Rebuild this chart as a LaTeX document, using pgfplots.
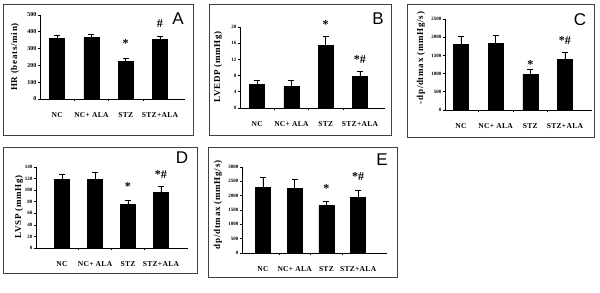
\documentclass[border=0pt]{standalone}
\usepackage{pgfplots}
\pgfplotsset{compat=1.18}
\usepackage{fontspec}
\setmainfont{Liberation Serif}
\newfontfamily\widef{Liberation Serif}[LetterSpace=8]
\newfontfamily\catf{Liberation Serif}[LetterSpace=4]
\newfontfamily\sansf{Liberation Sans}

\pgfplotsset{
  panel/.style={
    scale only axis, anchor=south west, clip=false,
    axis x line*=bottom, axis y line*=left,
    axis line style={-, black, line width=0.7pt},
    ybar, bar width=15pt, ymin=0,
    xtick={0,1,2,3},
    xticklabels={NC, NC+ ALA, STZ, STZ+ALA},
    major x tick style={draw=none},
    minor xtick={0.5,1.5,2.5},
    minor x tick style={black, line width=0.6pt},
    minor tick length=2.5pt,
    major tick length=2pt,
    tick align=outside,
    y tick style={black, line width=0.6pt},
    xticklabel style={font=\catf\bfseries\fontsize{7.5}{9}\selectfont, anchor=center, yshift=-14pt},
    yticklabel style={font=\bfseries\fontsize{5}{6}\selectfont, inner sep=1.5pt},
    /pgf/number format/assume math mode=true,
    /pgf/number format/1000 sep={},
    error bars/y dir=plus, error bars/y explicit,
    error bars/error bar style={black, line width=0.8pt},
    error bars/error mark options={rotate=90, mark size=3pt, line width=0.8pt, black},
  },
  bars/.style={fill=black, draw=black},
}

\newcommand{\lab}[1]{\widef\bfseries\fontsize{9}{10}\selectfont #1}
\newcommand{\sig}{\bfseries\fontsize{12}{12}\selectfont}

\begin{document}
\begin{tikzpicture}
\path[use as bounding box] (0pt,0pt) rectangle (600pt,292pt);

% frames
\draw[black!75, line width=0.7pt] (3pt,288pt) rectangle (193pt,157pt);
\draw[black!75, line width=0.7pt] (209pt,288pt) rectangle (391pt,157pt);
\draw[black!75, line width=0.7pt] (407pt,288pt) rectangle (594pt,155pt);
\draw[black!75, line width=0.7pt] (3pt,145pt) rectangle (197pt,19pt);
\draw[black!75, line width=0.7pt] (208pt,145pt) rectangle (397pt,15pt);

% ---------- A ----------
\begin{axis}[panel, at={(40pt,193pt)}, width=145pt, height=84pt,
  xmin=-0.5, xmax=3.73, ymax=500, ytick={0,100,...,500},
  yticklabel style={font=\bfseries\fontsize{6}{7}\selectfont}]
\addplot[bars] coordinates {(0,359) +- (0,22) (1,365) +- (0,20) (2,224) +- (0,16) (3,353) +- (0,22)};
\node[font=\sig] at (axis cs:2,330) {*};
\node[font=\sig] at (axis cs:3,446) {\#};
\end{axis}
\node[font=\sansf\fontsize{17}{17}\selectfont] at (178pt,273pt) {A};
\node[rotate=90] at (15pt,235pt) {\lab{HR (beats/min)}};

% ---------- B ----------
\begin{axis}[panel, at={(240pt,184pt)}, width=145pt, height=81pt,
  xmin=-0.5, xmax=3.73, ymax=20, ytick={0,4,...,20}]
\addplot[bars] coordinates {(0,5.8) +- (0,1.0) (1,5.3) +- (0,1.4) (2,15.4) +- (0,2.4) (3,7.75) +- (0,1.35)};
\node[font=\sig] at (axis cs:2,20.5) {*};
\node[font=\sig] at (axis cs:3,11.9) {*\#};
\end{axis}
\node[font=\sansf\fontsize{17}{17}\selectfont] at (378pt,273pt) {B};
\node[rotate=90] at (218pt,225pt) {\lab{LVEDP (mmHg)}};

% ---------- C ----------
\begin{axis}[panel, at={(445pt,182pt)}, width=147pt, height=91pt,
  xmin=-0.46, xmax=3.78, ymax=2500, ytick={0,500,...,2500}]
\addplot[bars] coordinates {(0,1808) +- (0,212) (1,1836) +- (0,221) (2,978) +- (0,138) (3,1384) +- (0,203)};
\node[font=\sig] at (axis cs:2,1236) {*};
\node[font=\sig] at (axis cs:3,1904) {*\#};
\end{axis}
\node[font=\sansf\fontsize{17}{17}\selectfont] at (580pt,272pt) {C};
\node[rotate=90] at (421pt,234pt) {\lab{-dp/dtmax (mmHg/s)}};

% ---------- D ----------
\begin{axis}[panel, at={(36pt,44pt)}, width=152pt, height=81pt,
  xmin=-0.79, xmax=3.82, ymax=140, ytick={0,20,...,140}]
\addplot[bars] coordinates {(0,118.7) +- (0,8.7) (1,118.7) +- (0,12.1) (2,75.5) +- (0,7.5) (3,96.3) +- (0,10.3)};
\node[font=\sig] at (axis cs:2,106) {*};
\node[font=\sig] at (axis cs:3,127) {*\#};
\end{axis}
\node[font=\sansf\fontsize{17}{17}\selectfont] at (182pt,134pt) {D};
\node[rotate=90] at (19pt,85pt) {\lab{LVSP (mmHg)}};

% ---------- E ----------
\begin{axis}[panel, at={(242pt,39pt)}, width=145pt, height=86pt,
  xmin=-0.66, xmax=3.91, ymax=3000, ytick={0,500,...,3000}]
\addplot[bars] coordinates {(0,2302) +- (0,326) (1,2267) +- (0,291) (2,1663) +- (0,151) (3,1930) +- (0,256)};
\node[font=\sig] at (axis cs:2,2233) {*};
\node[font=\sig] at (axis cs:3,2662) {*\#};
\end{axis}
\node[font=\sansf\fontsize{17}{17}\selectfont] at (382pt,132pt) {E};
\node[rotate=90] at (218pt,87pt) {\lab{dp/dtmax (mmHg/s)}};

\end{tikzpicture}
\end{document}
